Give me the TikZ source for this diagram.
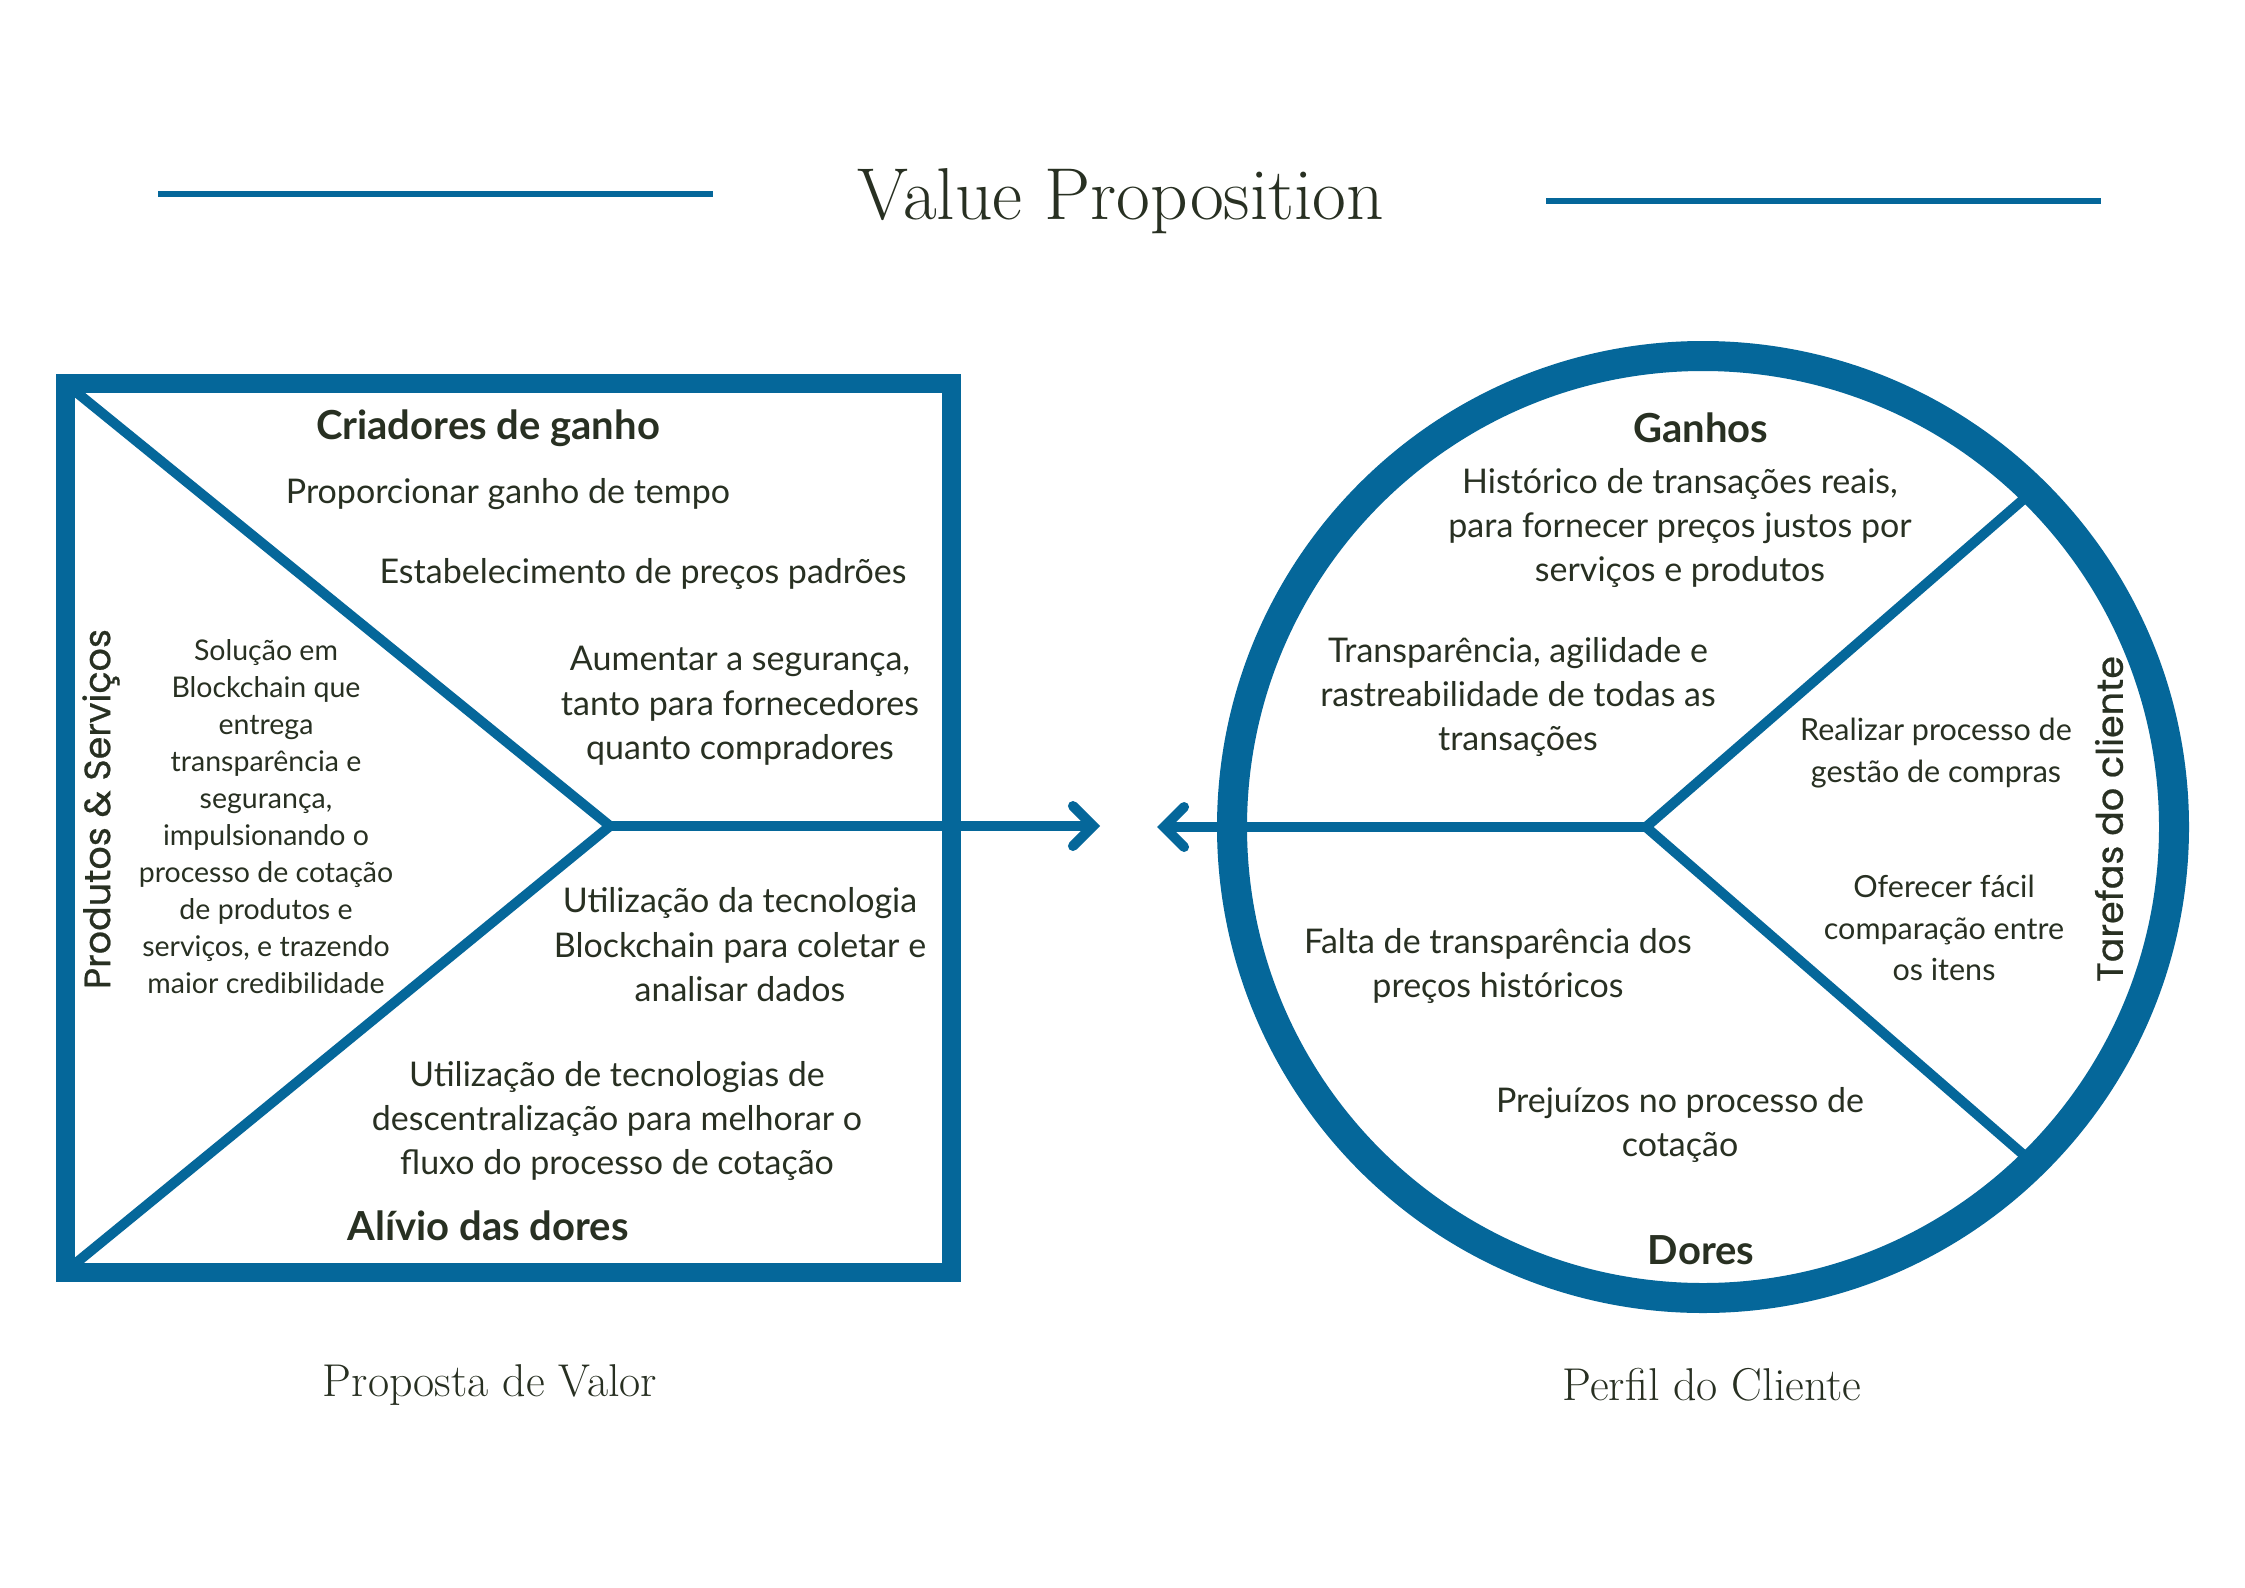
\documentclass[tikz,border=0pt]{standalone}
\usepackage{fontspec}
\newfontfamily\bodyfont{Lato}
\newfontfamily\labfont[FakeBold=0.6]{Poppins}
\usetikzlibrary{arrows.meta}
\definecolor{vpblue}{RGB}{5,103,154}
\definecolor{vptext}{RGB}{40,48,34}
\tikzset{
  frame/.style={draw=vpblue, line width=19pt},
  ring/.style={draw=vpblue, line width=30pt},
  divider/.style={draw=vpblue, line width=10pt, line cap=round, line join=round},
  rule/.style={draw=vpblue, line width=6pt},
  link/.style={draw=vpblue, line width=10pt, line cap=round, -{Straight Barb[length=20pt,width=40pt,line cap=round]}},
  body/.style={text=vptext, align=center, yshift=-3pt, font=\bodyfont\fontsize{34}{44.4}\selectfont},
  small/.style={text=vptext, align=center, yshift=-2pt, font=\bodyfont\fontsize{28.5}{37}\selectfont},
  task/.style={text=vptext, align=center, yshift=-2pt, font=\bodyfont\fontsize{30.5}{41.5}\selectfont},
  head/.style={text=vptext, align=center, yshift=-3pt, font=\bodyfont\bfseries\fontsize{40}{44}\selectfont},
  side/.style={text=vptext, rotate=90, font=\labfont\fontsize{36.5}{40}\selectfont},
  caption/.style={text=vptext, yshift=-3pt, font=\fontsize{46}{50}\selectfont},
  title/.style={text=vptext, yshift=-5pt, font=\fontsize{73.5}{80}\selectfont}
}
\begin{document}
\begin{tikzpicture}[x=1pt,y=-1pt]
\useasboundingbox[fill=white] (0,0) rectangle (2245,1587);

% title
\node[title] (ttl) at (1121,196) {Value Proposition};
\coordinate (l1a) at (158,194); \coordinate (l1b) at (713,194);
\coordinate (l2a) at (1546,201); \coordinate (l2b) at (2101,201);
\draw[rule] (l1a) -- (l1b);
\draw[rule] (l2a) -- (l2b);

% value proposition square
\coordinate (tl) at (65,383);
\coordinate (br) at (951,1272);
\coordinate (bl) at (65,1272);
\coordinate (sqV) at (610,826);
\coordinate (arrR) at (1100,826);
\draw[divider] (tl) -- (sqV) -- (bl);
\draw[link] (sqV) -- (arrR);
\draw[frame] (tl) rectangle (br);

% customer profile circle
\coordinate (cc) at (1703,827);
\coordinate (ciV) at (1646,827);
\coordinate (arrL) at (1157,827);
\coordinate (rayU) at (2033,491);
\coordinate (rayD) at (2033,1163);
\draw[divider] (rayU) -- (ciV) -- (rayD);
\draw[link] (ciV) -- (arrL);
\draw[ring] (cc) circle[radius=471];

% square texts
\node[head] (cg) at (488,425) {Criadores de ganho};
\node[body] (t1) at (508,491) {Proporcionar ganho de tempo};
\node[body] (t2) at (643,571) {Estabelecimento de preços padrões};
\node[body] (t3) at (740,703) {Aumentar a segurança,\\tanto para fornecedores\\quanto compradores};
\node[small] (ps) at (266,815) {Solução em\\Blockchain que\\entrega\\transparência e\\segurança,\\impulsionando o\\processo de cotação\\de produtos e\\serviços, e trazendo\\maior credibilidade};
\node[side] (psl) at (101,809) {Produtos \& Serviços};
\node[body] (t4) at (740,942) {Utilização da tecnologia\\Blockchain para coletar e\\analisar dados};
\node[body] (t5) at (617,1118) {Utilização de tecnologias de\\descentralização para melhorar o\\fluxo do processo de cotação};
\node[head] (ad) at (488,1223) {Alívio das dores};
\node[caption] (pv) at (490,1382) {Proposta de Valor};

% circle texts
\node[head] (gh) at (1701,425) {Ganhos};
\node[body] (c1) at (1680,525) {Histórico de transações reais,\\para fornecer preços justos por\\serviços e produtos};
\node[body] (c2) at (1518,694) {Transparência, agilidade e\\rastreabilidade de todas as\\transações};
\node[task] (c3) at (1936,751) {Realizar processo de\\gestão de compras};
\node[task] (c4) at (1944,926) {Oferecer fácil\\comparação entre\\os itens};
\node[side] (tc) at (2109,819) {Tarefas do cliente};
\node[body] (c5) at (1498,963) {Falta de transparência dos\\preços históricos};
\node[body] (c6) at (1680,1122) {Prejuízos no processo de\\cotação};
\node[head] (dr) at (1701,1247) {Dores};
\node[caption] (pc) at (1712,1382) {Perfil do Cliente};
\end{tikzpicture}
\end{document}
